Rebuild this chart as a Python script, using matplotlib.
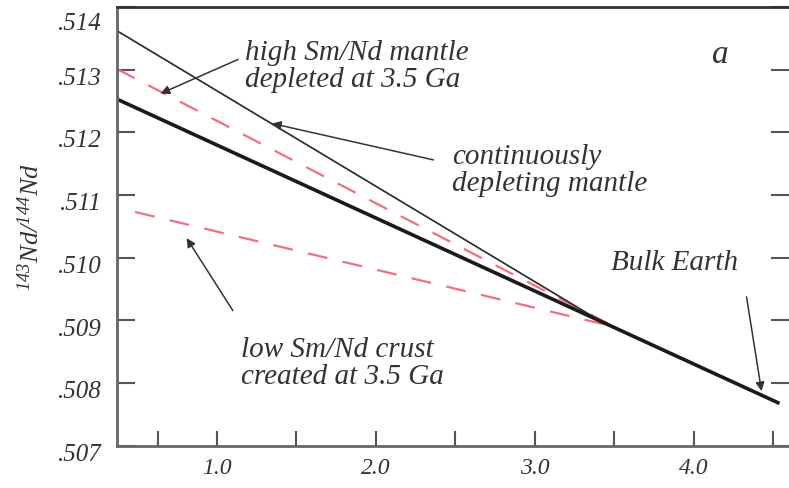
import numpy as np
import matplotlib
matplotlib.use("Agg")
import matplotlib.pyplot as plt
from matplotlib.transforms import ScaledTranslation

# Nd isotope evolution (age in Ga, 143Nd/144Nd)
bulk_age = [0.37, 4.53]
bulk_nd = [0.51253, 0.50769]

cont_age = [0.37, 3.42, 3.90]
cont_nd = [0.51362, 0.50898, 0.50842]

high_age = [0.37, 3.50]
high_nd = [0.51301, 0.50890]

low_age = [0.485, 3.50]
low_nd = [0.51073, 0.50890]

yticks = [0.507, 0.508, 0.509, 0.510, 0.511, 0.512, 0.513, 0.514]
ytick_labels = ['.507', '.508', '.509', '.510', '.511', '.512', '.513', '.514']
xticks_major = [1.0, 2.0, 3.0, 4.0]
xticks_all = [0.63, 1.0, 1.5, 2.0, 2.5, 3.0, 3.5, 4.0, 4.5]

plt.rcParams['font.family'] = ['Liberation Serif', 'DejaVu Serif']
plt.rcParams['mathtext.fontset'] = 'custom'
plt.rcParams['mathtext.rm'] = 'Liberation Serif:italic'
plt.rcParams['mathtext.it'] = 'Liberation Serif:italic'

fig = plt.figure(figsize=(7.89, 4.89), dpi=100)
ax = fig.add_axes([0.148, 0.086, 0.852, 0.898])

dash_red = '#f07080'
ax.plot(low_age, low_nd, color=dash_red, lw=1.6, dashes=(9, 7))
ax.plot(high_age, high_nd, color=dash_red, lw=1.6, dashes=(9, 7))
ax.plot(cont_age, cont_nd, color='#333333', lw=1.3)
ax.plot(bulk_age, bulk_nd, color='#1a1a1a', lw=2.6)

ax.set_xlim(0.37, 4.6)
ax.set_ylim(0.507, 0.514)

ax.set_yticks(yticks)
ax.set_yticklabels(ytick_labels, fontsize=18, style='italic', color='#333333')
ax.set_xticks(xticks_all)
ax.set_xticklabels(['' if t not in xticks_major else f'{t:.1f}' for t in xticks_all],
                   fontsize=17, style='italic', color='#333333')

ax.tick_params(axis='y', direction='in', length=13, width=1.5, color='#555555',
               right=True, pad=11)
ax.tick_params(axis='x', direction='in', length=11, width=1.5, color='#555555', pad=8)

# nudge y labels slightly down, the top one below the frame
down = ScaledTranslation(0, -4 / 72, fig.dpi_scale_trans)
for lab in ax.get_yticklabels():
    lab.set_transform(lab.get_transform() + down)
ax.get_yticklabels()[-1].set_verticalalignment('top')

for side in ['left', 'bottom']:
    ax.spines[side].set_color('#666666')
    ax.spines[side].set_linewidth(2.0)
ax.spines['top'].set_color('#333333')
ax.spines['top'].set_linewidth(2.0)
ax.spines['right'].set_visible(False)

ax.set_ylabel(r'$^{143}$Nd/$^{144}$Nd', fontsize=19, style='italic', color='#333333',
              labelpad=10)

txt = dict(fontsize=21, style='italic', color='#333333', linespacing=1.05)
arrow = dict(arrowstyle='-|>', color='#333333', lw=1.1, mutation_scale=13)

ax.annotate('high Sm/Nd mantle\ndepleted at 3.5 Ga', xy=(0.63, 0.51260),
            xytext=(1.18, 0.51306), ha='left', va='center', **txt)
ax.annotate('', xy=(0.63, 0.51260), xytext=(1.15, 0.51318), arrowprops=arrow)
ax.annotate('continuously\ndepleting mantle', xy=(1.33, 0.51215),
            xytext=(2.48, 0.51140), ha='left', va='center', **txt)
ax.annotate('', xy=(1.33, 0.51215), xytext=(2.38, 0.51155), arrowprops=arrow)
ax.annotate('Bulk Earth', xy=(4.43, 0.50783), xytext=(3.48, 0.50993),
            ha='left', va='center', **txt)
ax.annotate('', xy=(4.43, 0.50783), xytext=(4.33, 0.50942), arrowprops=arrow)
ax.annotate('low Sm/Nd crust\ncreated at 3.5 Ga', xy=(0.80, 0.51035),
            xytext=(1.15, 0.50833), ha='left', va='center', **txt)
ax.annotate('', xy=(0.80, 0.51035), xytext=(1.11, 0.50912), arrowprops=arrow)
ax.text(4.17, 0.51325, 'a', fontsize=24, style='italic', color='#333333',
        ha='center', va='center')

fig.savefig('out.png', dpi=100)
